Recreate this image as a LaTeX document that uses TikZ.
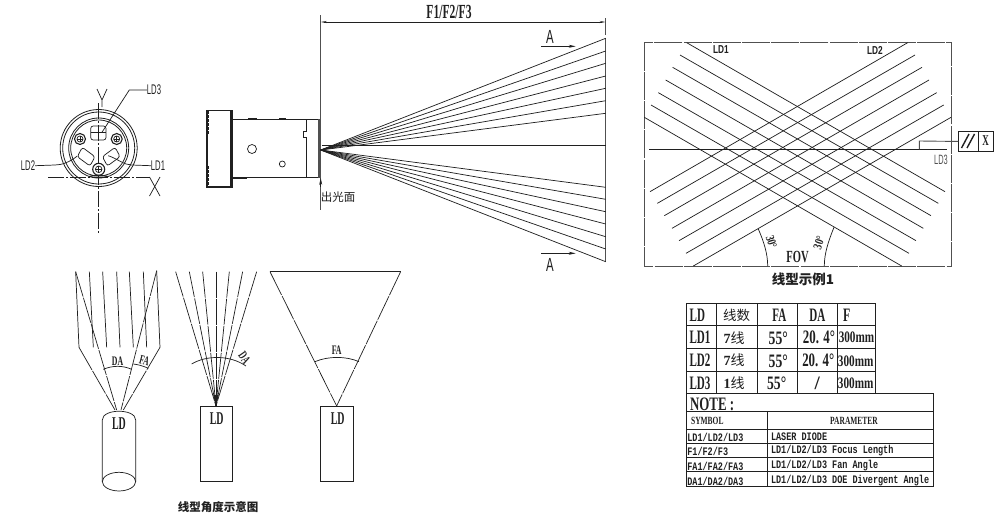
\documentclass[tikz,border=0pt]{standalone}
\usepackage{fontspec}
\usepackage{graphicx}
\setmainfont{Liberation Serif}
\setsansfont{Liberation Sans}
\setmonofont{Liberation Mono}
\newfontfamily\cjk{Noto Sans CJK SC}
\newcommand{\nrw}[2]{\scalebox{#1}[1]{#2}}
\newcommand{\fs}[1]{\fontsize{#1}{#1}\selectfont}
\definecolor{ink}{HTML}{202020}
\definecolor{frameink}{HTML}{505050}
\tikzset{
  x=1pt,y=-1pt,
  thin line/.style={draw=ink,line width=0.72pt},
  heavy line/.style={draw=ink,line width=1.1pt},
  axis line/.style={draw=ink,line width=0.55pt,dash pattern=on 16pt off 2pt on 2pt off 2pt},
  ray line/.style={draw=ink,line width=0.7pt,dash pattern=on 26pt off 1.2pt},
  lbl/.style={inner sep=0pt,outer sep=0pt,text=ink,font=\fs{11}},
  cadlbl/.style={lbl,font=\sffamily\fs{14}},
  tbl/.style={lbl,font=\bfseries\fs{19}},
  tblsmall/.style={lbl,font=\ttfamily\bfseries\fs{8.5}},
  tip/.style={-{Stealth[length=7pt,width=3pt]}},
}
\usetikzlibrary{arrows.meta}
\begin{document}
\begin{tikzpicture}
\useasboundingbox[fill=white] (0,0) rectangle (999,517);

% ---- front view
\draw[axis line] (98.7,103) -- (98.7,233);
\draw[axis line] (48,177) -- (150,177);
\foreach \r/\w in {38.5/0.8,36/0.8,30/0.8,28/0.8} \draw[draw=ink,line width=\w pt] (98.7,148) circle (\r);
\draw[thin line,rounded corners=2.5pt,fill=white] (90.7,126) rectangle (106,140);
\draw[thin line] (90.7,132.7) -- (106,132.7) (98.7,126) -- (98.7,140);
\draw[thin line,rounded corners=2.5pt] (82.3,147.3) -- (95,156.7) -- (90,166) -- (77.3,156.7) -- cycle;
\draw[thin line,rounded corners=2.5pt] (115.1,147.3) -- (102.4,156.7) -- (107.4,166) -- (120.1,156.7) -- cycle;
\foreach \n/\cx/\cy/\r in {sa/80/139/5.5,sb/116.7/139/5.5,sc/98.7/169.3/6}{
  \draw[heavy line,fill=white] (\cx,\cy) circle (\r);
  \draw[thin line] (\cx,\cy) circle (\r*0.55);
  \draw[thin line] (\cx-\r*0.55,\cy) -- (\cx+\r*0.55,\cy) (\cx,\cy-\r*0.55) -- (\cx,\cy+\r*0.55);
}
\draw[draw=ink,line width=1.3pt] (89,177) .. controls (90,175) and (107,175) .. (108,177);
\node[cadlbl,anchor=center] (ldthree) at (154,90) {\nrw{0.55}{LD3}};
\node[cadlbl] (ldtwo) at (28,165.7) {\nrw{0.55}{LD2}};
\node[cadlbl] (ldone) at (158,165.7) {\nrw{0.55}{LD1}};
\coordinate (ldthreep) at (101.7,132.7);
\coordinate (ldtwop) at (77.3,156);
\coordinate (ldonep) at (108.3,155.7);
\draw[thin line] (ldthreep) -- (129.3,90) -- (ldthree.west);
\draw[thin line] (ldtwop) .. controls (70,162) and (62,165) .. (55,165) -- (ldtwo.east);
\draw[thin line] (ldonep) .. controls (118,159) and (124,165) .. (131.7,165) -- (ldone.west);
% Y and X
\draw[thin line] (97,89) -- (102,100) -- (107,89) (102,100) -- (102,107);
\draw[thin line] (149.5,177) -- (160,196) (160,177) -- (149.5,196);

% ---- side view
\draw[heavy line] (207,110.7) rectangle (232,187);
\draw[draw=ink,line width=1.3pt,dash pattern=on 3pt off 1pt] (208,111) -- (208,134);
\draw[draw=ink,line width=1.3pt,dash pattern=on 3pt off 1pt] (208,166) -- (208,187);
\draw[thin line] (230,110.7) -- (230,187);
\draw[thin line] (232,119) -- (320,119) (232,177.7) -- (320,177.7);
\draw[thin line] (232,178.7) -- (246,178.7) -- (246,177.7);
\draw[heavy line] (248,119) -- (257,119) (279,119) -- (286,119);
\draw[thin line] (306.7,119) -- (306.7,131) -- (303,131) -- (303,137) -- (306.7,137) -- (306.7,177.7);
\draw[draw=frameink,line width=1.6pt] (319,119) -- (319,178);
\draw[thin line] (252,149) circle (4.5);
\draw[thin line] (282.3,164) circle (3);

% ---- beams
\coordinate (origin) at (320.7,150);
\draw[draw=frameink,line width=0.8pt] (320.7,15) -- (320.7,210);
\draw[draw=frameink,line width=0.6pt] (605.7,18) -- (605.7,35);
\draw[draw=frameink,line width=0.8pt] (605.7,38) -- (605.7,262);
\draw[thin line,{Stealth[length=6pt,width=2pt]}-{Stealth[length=6pt,width=2pt]}] (320.7,22) -- (605.7,22);
\foreach \y in {38.3,51,63.3,76,88.3,100.7,113.3,187.3,199.3,211.7,224,236.7,249,261.7}
  \draw[thin line] (origin) -- (605.7,\y);
\draw[thin line] (322,145) -- (605.7,145);
\draw[thin line,tip] (320.7,187) -- (320.7,178);
\node[lbl,font=\bfseries\fs{20}] (ftitle) at (449,11.5) {\nrw{0.58}{F1/F2/F3}};
\node[lbl,font=\cjk\fs{11.5}] (chuguang) at (338,197) {出光面};
\draw[thin line,tip] (541,46.3) -- (575.7,46.3);
\draw[thin line,tip] (541,253.3) -- (575.7,253.3);
\node[cadlbl,font=\sffamily\fs{19}] (aone) at (550,36.5) {\nrw{0.6}{A}};
\node[cadlbl,font=\sffamily\fs{19}] (atwo) at (550,265) {\nrw{0.6}{A}};

% ---- line pattern example
\draw[draw=frameink,line width=0.9pt,dash pattern=on 28pt off 1.2pt] (644.3,42.7) rectangle (951,266);
\foreach \xa/\ya/\xb/\yb in {170/38/945/485,150/75/925/520,128/112/903/557,107/150/880/595,85/188/858/632,63/225/837/670,43/262/815/708,
  833/38/60/485,855/75/82/520,876/112/103/557,897/150/126/595,920/188/147/632,941/225/168/670,963/262/190/708}
  \draw[thin line] ({630+\xa/3},{30+\ya/3}) -- ({630+\xb/3},{30+\yb/3});
\draw[thin line] (649,149.3) -- (946.7,149.3);
\node[lbl,font=\bfseries\sffamily\fs{11.5}] (exldone) at (721,50) {\nrw{0.72}{LD1}};
\node[lbl,font=\bfseries\sffamily\fs{11.5}] (exldtwo) at (875,50) {\nrw{0.72}{LD2}};
\node[cadlbl,text=frameink,font=\sffamily\fs{13.5}] (exldthree) at (941,160) {\nrw{0.55}{LD3}};
\node[draw=ink,line width=0.9pt,minimum width=20pt,minimum height=20.6pt,inner sep=0pt,anchor=north west] (tolsym) at (958.3,130.7) {};
\node[draw=ink,line width=0.9pt,minimum width=14.4pt,minimum height=20.6pt,inner sep=0pt,anchor=north west] (tolx) at (978.3,130.7) {};
\draw[draw=ink,line width=1.4pt] (961.5,148) -- (969,134) (967,148) -- (974.5,134);
\node[lbl,font=\bfseries\fs{15}] (tolxt) at (985.5,141) {\nrw{0.6}{X}};
\coordinate (tolfoot) at (919.3,149.3);
\draw[draw=frameink,line width=0.9pt] (tolfoot) -- (919.3,141) -- (tolsym.west);
\draw[thin line] (758.3,229) .. controls (764,242) and (767.7,254) .. (767.7,266);
\draw[thin line] (834,227.3) .. controls (828,242) and (824.3,254) .. (824.3,266);
\node[lbl,font=\bfseries\fs{12.5},rotate=-72] (anga) at (771.5,242) {\nrw{0.75}{30°}};
\node[lbl,font=\bfseries\fs{12.5},rotate=72] (angb) at (819,242.5) {\nrw{0.75}{30°}};
\node[lbl,font=\bfseries\fs{17}] (fov) at (797.5,256.5) {\nrw{0.62}{FOV}};
\node[lbl,font=\cjk\bfseries\fs{13.5}] (captiona) at (803,279) {线型示例1};

% ---- angle sketches: left
\begin{scope}[shift={(60,260)},x=0.3333pt,y=-0.3333pt]
  \draw[thin line] (47,35) -- (57,262) (290,32) -- (300,262);
  \foreach \t/\b in {88/100,128/140,170/180,208/220,250/260} \draw[thin line] (\t,35) -- (\b,262);
  \draw[ray line] (57,262) -- (165,450);
  \draw[ray line] (300,262) -- (190,450);
  \draw[ray line] (47,35) -- (170,450);
  \draw[ray line] (290,32) -- (183,450);
  \draw[thin line] (130,328) .. controls (158,316) and (188,316) .. (215,328);
  \draw[thin line] (220,312) .. controls (236,314) and (250,318) .. (265,325);
  \draw[thin line] (127,665) -- (127,480) .. controls (127,445) and (227,445) .. (227,480) -- (227,665);
  \draw[thin line] (177,665) ellipse (50 and 28);
  % middle
  \foreach \t in {347,388,428,468,508,548,590} \draw[ray line] (\t,35) -- (468,438);
  \fill[ink] (460,405) -- (476,405) -- (468,438) -- cycle;
  \draw[thin line] (395,312) .. controls (440,285) and (510,285) .. (558,318);
  \draw[thin line] (420,438) rectangle (517,665);
  % right
  \draw[thin line] (630,35) -- (1022,35);
  \draw[ray line] (630,35) -- (830,438);
  \draw[ray line] (1022,35) -- (830,438);
  \draw[thin line] (765,305) .. controls (805,288) and (858,288) .. (897,305);
  \draw[thin line] (782,438) rectangle (880,665);
\end{scope}
\node[lbl,font=\bfseries\fs{13}] (da) at (117.5,361) {\nrw{0.6}{DA}};
\node[lbl,font=\bfseries\fs{13},rotate=-15] (fa) at (144.5,360.5) {\nrw{0.6}{FA}};
\node[lbl,font=\bfseries\fs{18}] (lda) at (119,423.5) {\nrw{0.55}{LD}};
\node[lbl,font=\bfseries\fs{13},rotate=-55] (dab) at (244.5,358) {\nrw{0.6}{DA}};
\node[lbl,font=\bfseries\fs{18}] (ldb) at (216.7,419) {\nrw{0.55}{LD}};
\node[lbl,font=\bfseries\fs{13}] (fac) at (336.7,350) {\nrw{0.6}{FA}};
\node[lbl,font=\bfseries\fs{18}] (ldc) at (337.7,418.5) {\nrw{0.55}{LD}};
\node[lbl,font=\cjk\bfseries\fs{11.5}] (captionb) at (218,507) {线型角度示意图};

% ---- upper table
\draw[draw=ink,line width=0.9pt] (686,303.3) rectangle (875,393.3);
\foreach \x in {716.7,757.3,797.3,837.3} \draw[draw=ink,line width=0.9pt] (\x,303.3) -- (\x,393.3);
\foreach \y in {325.7,348.3,371} \draw[draw=ink,line width=0.9pt] (686,\y) -- (875,\y);
\node[tbl] (ha) at (697.3,315) {\nrw{0.58}{LD}};
\node[tbl,font=\cjk\fs{13.5}] (hb) at (736.7,315) {线数};
\node[tbl] (hc) at (779.3,315) {\nrw{0.58}{FA}};
\node[tbl] (hd) at (817.3,315) {\nrw{0.58}{DA}};
\node[tbl] (he) at (846.7,315) {\nrw{0.62}{F}};
\node[tbl] (ra) at (700,337.7) {\nrw{0.58}{LD1}};
\node[tbl] (rb) at (700,360) {\nrw{0.58}{LD2}};
\node[tbl] (rc) at (700,383) {\nrw{0.58}{LD3}};
\node[tbl,font=\fs{14}] (sa) at (734,337.7) {\textbf{7}\cjk 线};
\node[tbl,font=\fs{14}] (sb) at (734,360) {\textbf{7}\cjk 线};
\node[tbl,font=\fs{14}] (sc) at (734,383) {\textbf{1}\cjk 线};
\node[tbl] (fa1) at (778.3,338.3) {\nrw{0.72}{55°}};
\node[tbl] (fa2) at (778.3,361) {\nrw{0.72}{55°}};
\node[tbl] (fa3) at (776.7,383) {\nrw{0.72}{55°}};
\node[tbl] (da1) at (819,337.3) {\nrw{0.68}{20. 4°}};
\node[tbl] (da2) at (818.3,360) {\nrw{0.68}{20. 4°}};
\node[tbl] (da3) at (817.3,383) {/};
\node[tbl,font=\bfseries\fs{16}] (fo1) at (856.5,337.3) {\nrw{0.7}{300mm}};
\node[tbl,font=\bfseries\fs{16}] (fo2) at (855.7,361) {\nrw{0.7}{300mm}};
\node[tbl,font=\bfseries\fs{16}] (fo3) at (855.7,383) {\nrw{0.7}{300mm}};

% ---- lower table
\draw[draw=ink,line width=0.9pt] (686,393.3) rectangle (933.3,486.7);
\foreach \y in {411.7,429.3,443.3,457.3,471.7} \draw[draw=ink,line width=0.9pt] (686,\y) -- (933.3,\y);
\draw[draw=ink,line width=0.9pt] (767.7,411.7) -- (767.7,486.7);
\node[tbl,anchor=west,font=\bfseries\fs{19}] (note) at (690,404) {\nrw{0.68}{NOTE :}};
\node[tblsmall,font=\bfseries\fs{11}] (sym) at (707.3,421) {\nrw{0.68}{SYMBOL}};
\node[tblsmall,font=\bfseries\fs{11}] (par) at (854,421) {\nrw{0.68}{PARAMETER}};
\foreach \n/\y/\a/\b in {a/437/LD1\slash LD2\slash LD3/LASER DIODE,b/451/F1\slash F2\slash F3/LD1\slash LD2\slash LD3 Focus Length,c/466/FA1\slash FA2\slash FA3/LD1\slash LD2\slash LD3 Fan Angle,d/481/DA1\slash DA2\slash DA3/LD1\slash LD2\slash LD3 DOE Divergent Angle}{
  \node[tblsmall,anchor=west] (l\n) at (687.3,\y) {\scalebox{1}[1.35]{\a}};
  \node[tblsmall,anchor=west] (p\n) at (771,\y) {\scalebox{1}[1.35]{\b}};
}
\end{tikzpicture}
\end{document}
